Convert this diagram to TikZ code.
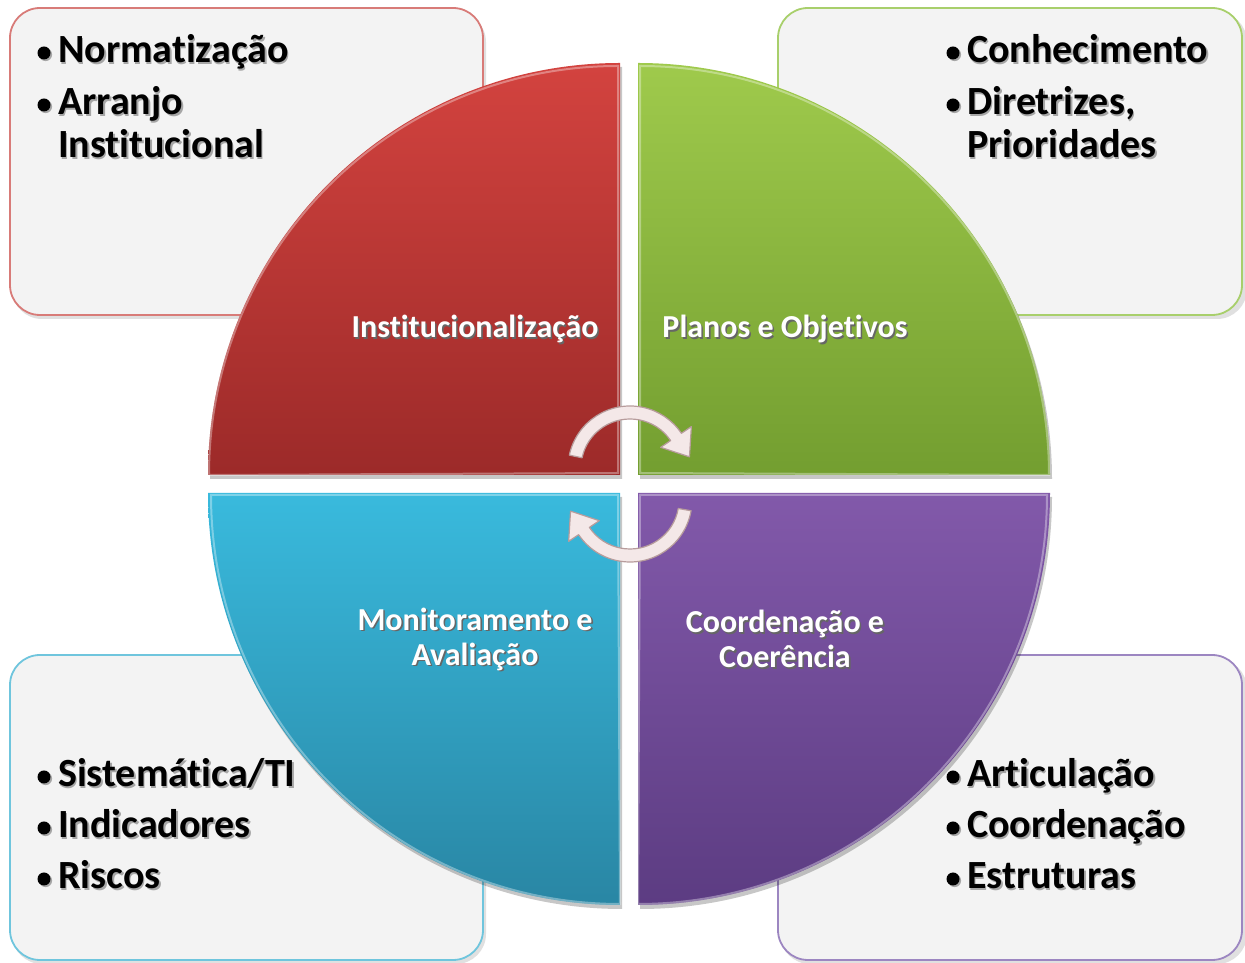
\documentclass[tikz,border=0pt]{standalone}
\usepackage{fontspec}
\setmainfont{Carlito}[Ligatures={NoCommon,NoContextual},Contextuals=NoAlternate]
\usetikzlibrary{calc}
\definecolor{paneFill}{HTML}{F3F3F3}
\definecolor{redTop}{HTML}{D3433F}
\definecolor{redBot}{HTML}{9C2A29}
\definecolor{redLine}{HTML}{D87B78}
\definecolor{grnTop}{HTML}{9FCA4C}
\definecolor{grnBot}{HTML}{739E30}
\definecolor{grnLine}{HTML}{A8CF6B}
\definecolor{bluTop}{HTML}{39BADD}
\definecolor{bluBot}{HTML}{2986A4}
\definecolor{bluLine}{HTML}{6FC5DD}
\definecolor{purTop}{HTML}{8259AA}
\definecolor{purBot}{HTML}{5C3C82}
\definecolor{purLine}{HTML}{9C86C1}
\definecolor{arrFill}{HTML}{F4E8E8}
\definecolor{arrLine}{HTML}{B79C9C}
\newcommand\shtxt[2]{\makebox[0pt][l]{\kern1.6pt\raisebox{-1.6pt}{\color{#1}#2}}#2}
\newcommand\Ti{t\kern0pt i}
\begin{document}
\begin{tikzpicture}[x=1pt,y=1pt,
  pane/.style={rounded corners=30pt, fill=paneFill, line width=1.8pt},
  paneshadow/.style={rounded corners=30pt, fill=black, opacity=0.12},
  segshadow/.style={fill=black, opacity=0.22},
  bevel/.style={draw=white, draw opacity=0.35, line width=2pt},
  boxtxt/.style={anchor=base west, font=\fontsize{40}{43}\selectfont\bfseries, inner sep=0pt},
  segtxt/.style={align=center, font=\fontsize{32}{35}\selectfont\bfseries, text=white, inner sep=0pt},
  arrowshape/.style={fill=arrFill, draw=arrLine, line width=1.2pt, line join=round}]
\useasboundingbox (0,0) rectangle (1245,963);

% panes (behind the disc)
\fill[paneshadow] (12,644) rectangle (486,951);
\draw[pane, draw=redLine] (10,648) rectangle (483,955);
\fill[paneshadow] (780,644) rectangle (1247,951);
\draw[pane, draw=grnLine] (778,648) rectangle (1242,955);
\fill[paneshadow] (12,-1) rectangle (486,304);
\draw[pane, draw=bluLine] (10,3) rectangle (483,308);
\fill[paneshadow] (780,-1) rectangle (1247,304);
\draw[pane, draw=purLine] (778,3) rectangle (1242,308);

% sector shadows
\fill[segshadow] (622,484) -- (622,896) arc (90:180:412) -- cycle;
\fill[segshadow] (640,484) -- (640,896) arc (90:0:412) -- cycle;
\fill[segshadow] (622,466) -- (210,466) arc (180:270:412) -- cycle;
\fill[segshadow] (640,466) -- (1052,466) arc (0:-90:412) -- cycle;

% sectors
\path[top color=redTop, bottom color=redBot] (620,488) -- (620,900) arc (90:180:412) -- cycle;
\draw[bevel] (618,490) -- (618,897) arc (90:180:409) -- cycle;
\path[top color=grnTop, bottom color=grnBot] (638,488) -- (638,900) arc (90:0:412) -- cycle;
\draw[bevel] (640,490) -- (640,897) arc (90:0:409) -- cycle;
\path[top color=bluTop, bottom color=bluBot] (620,470) -- (208,470) arc (180:270:412) -- cycle;
\draw[bevel] (618,468) -- (211,468) arc (180:270:409) -- cycle;
\path[top color=purTop, bottom color=purBot] (638,470) -- (1050,470) arc (0:-90:412) -- cycle;
\draw[bevel] (640,468) -- (1047,468) arc (0:-90:409) -- cycle;

% sector labels
\node[segtxt] (inst) at (475,633) {\shtxt{black!60}{Ins\Ti tucionalização}};
\node[segtxt] (plan) at (785,633) {\shtxt{black!60}{Planos e Obje\Ti vos}};
\node[segtxt] (moni) at (475,323) {\shtxt{black!60}{Monitoramento e}\\\shtxt{black!60}{Avaliação}};
\node[segtxt] (coor) at (785,323) {\shtxt{black!60}{Coordenação e}\\\shtxt{black!60}{Coerência}};

% cycle arrows
\begin{scope}[shift={(630,495)}]
\path[arrowshape] (168:62) arc (168:34:62) -- (34:74) -- ($(34:55.5)+(24*0.56,-24*0.829)$) -- (34:37) -- (34:49) arc (34:168:49) -- cycle;
\end{scope}
\begin{scope}[shift={(630,463)}]
\path[arrowshape] (-10:62) arc (-10:-146:62) -- (-146:74) -- ($(-146:55.5)+(-24*0.56,24*0.829)$) -- (-146:37) -- (-146:49) arc (-146:-10:49) -- cycle;
\end{scope}

% bullets
\foreach \bx/\by in {44/910, 44/858, 953/910, 953/858, 44/186, 44/135, 44/84, 953/186, 953/135, 953/84}{
  \fill[black!35] (\bx+1.6,\by-1.6) circle (6.5);
  \fill[black] (\bx,\by) circle (6.5);
}

% pane texts
\node[boxtxt] (t1a) at (58,900) {\shtxt{black!35}{Norma\Ti zação}};
\node[boxtxt] (t1b) at (58,848) {\shtxt{black!35}{Arranjo}};
\node[boxtxt] (t1c) at (58,805) {\shtxt{black!35}{Ins\Ti tucional}};

\node[boxtxt] (t2a) at (967,900) {\shtxt{black!35}{Conhecimento}};
\node[boxtxt] (t2b) at (967,848) {\shtxt{black!35}{Diretrizes,}};
\node[boxtxt] (t2c) at (967,805) {\shtxt{black!35}{Prioridades}};

\node[boxtxt] (t3a) at (58,176) {\shtxt{black!35}{Sistemá\Ti ca/TI}};
\node[boxtxt] (t3b) at (58,125) {\shtxt{black!35}{Indicadores}};
\node[boxtxt] (t3c) at (58,74) {\shtxt{black!35}{Riscos}};

\node[boxtxt] (t4a) at (967,176) {\shtxt{black!35}{Ar\Ti culação}};
\node[boxtxt] (t4b) at (967,125) {\shtxt{black!35}{Coordenação}};
\node[boxtxt] (t4c) at (967,74) {\shtxt{black!35}{Estruturas}};
\end{tikzpicture}
\end{document}
